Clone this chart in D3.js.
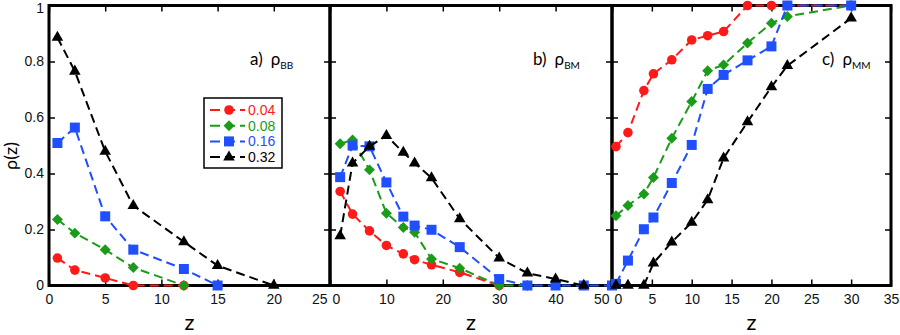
<!DOCTYPE html>
<html lang="en">
<head>
    <meta charset="UTF-8">
    <script src="https://d3js.org/d3.v7.min.js"></script>
    <style>
        body { margin: 0; background: #fff; }
        text { font-family: "Liberation Sans", Arial, sans-serif; }
        .lbl { font-family: Lato, "Open Sans", sans-serif; }
        .tick line { stroke: #000; stroke-width: 1.5px; }
    </style>
    <title>rho(z)</title>
</head>
<body>
    <div class="canvas"></div>
    <script>
        const seriesNames = ['0.04', '0.08', '0.16', '0.32']
        const colors = ['#ff1a1a', '#1a9c1a', '#1f4fff', '#000000']
        const shapes = ['circle', 'diamond', 'square', 'triangle']

        // a) rho_BB
        const zBB = [0.75, 2.3, 5, 7.5, 12, 15, 20]
        const bb004 = [0.098, 0.055, 0.027, 0, 0, null, null]
        const bb008 = [0.236, 0.187, 0.128, 0.064, 0, null, null]
        const bb016 = [0.509, 0.564, 0.247, 0.128, 0.059, 0, null]
        const bb032 = [0.886, 0.765, 0.479, 0.285, 0.156, 0.071, 0]

        // b) rho_BM
        const zBM = [1.8, 4, 7, 10, 13, 15, 18, 23, 30, 35, 40, 45, 50]
        const bm004 = [0.336, 0.255, 0.195, 0.143, 0.113, 0.092, 0.074, 0.047, 0, null, null, null, null]
        const bm008 = [0.506, 0.52, 0.413, 0.258, 0.207, 0.19, 0.095, 0.062, 0, 0, null, null, null]
        const bm016 = [0.387, 0.5, 0.497, 0.368, 0.246, 0.214, 0.199, 0.137, 0.023, 0, 0, 0, 0]
        const bm032 = [0.177, 0.437, 0.497, 0.535, 0.475, 0.437, 0.384, 0.238, 0.098, 0.044, 0.023, 0, null]

        // c) rho_MM
        const zMM = [0.5, 2, 4, 5.2, 7.5, 10, 12, 14, 17, 20, 22, 30]
        const mm004 = [0.496, 0.546, 0.696, 0.756, 0.806, 0.877, 0.892, 0.907, 1, 1, 1, 1]
        const mm008 = [0.249, 0.286, 0.327, 0.386, 0.526, 0.657, 0.767, 0.788, 0.866, 0.937, 0.961, 1]
        const mm016 = [0.006, 0.089, 0.201, 0.243, 0.366, 0.502, 0.702, 0.752, 0.804, 0.854, 1, 1]
        const mm032 = [0, 0, 0, 0.08, 0.155, 0.225, 0.306, 0.455, 0.584, 0.709, 0.785, 0.955]

        const ticksBB = [0, 5, 10, 15, 20, 25]
        const ticksBM = [0, 10, 20, 30, 40, 50]
        const ticksMM = [0, 5, 10, 15, 20, 25, 30, 35]
        const yTicks = [0, 0.2, 0.4, 0.6, 0.8, 1]

        const panels = [
            { tag: 'a)', sub: 'BB', z: zBB, vals: [bb004, bb008, bb016, bb032], ticks: ticksBB, left: 49, right: 330, labelX: 250 },
            { tag: 'b)', sub: 'BM', z: zBM, vals: [bm004, bm008, bm016, bm032], ticks: ticksBM, left: 330, right: 612, labelX: 533 },
            { tag: 'c)', sub: 'MM', z: zMM, vals: [mm004, mm008, mm016, mm032], ticks: ticksMM, left: 612, right: 891, labelX: 822 }
        ]

        const areaWidth = 900
        const areaHeight = 335
        const plotTop = 5.5
        const plotBottom = 285.5

        const svg = d3.select('.canvas')
            .append('svg')
            .attr('width', areaWidth)
            .attr('height', areaHeight)

        const y = d3.scaleLinear().domain([0, 1]).range([plotBottom, plotTop])

        const symbolFor = (shape) => {
            if (shape === 'circle') return d3.symbol().type(d3.symbolCircle).size(72)()
            if (shape === 'square') return d3.symbol().type(d3.symbolSquare).size(100)()
            if (shape === 'diamond') return d3.symbol().type(d3.symbolSquare).size(60)()
            return d3.symbol().type(d3.symbolTriangle).size(58)()
        }
        const rot = shape => shape === 'diamond' ? ' rotate(45)' : ''

        panels.forEach((p, pi) => {
            const x = d3.scaleLinear()
                .domain([p.ticks[0], p.ticks[p.ticks.length - 1]])
                .range([p.left, p.right])

            const g = svg.append('g')

            // ticks on all four sides, pointing inward
            const xb = g.append('g')
                .attr('transform', `translate(0,${plotBottom})`)
                .call(d3.axisBottom(x).tickValues(p.ticks).tickSize(-6).tickSizeOuter(0).tickPadding(9))
            g.append('g')
                .attr('transform', `translate(0,${plotTop})`)
                .call(d3.axisTop(x).tickValues(p.ticks).tickSize(-6).tickSizeOuter(0).tickFormat(''))
            const yl = g.append('g')
                .attr('transform', `translate(${p.left},0)`)
                .call(d3.axisLeft(y).tickValues(yTicks).tickSize(-6).tickSizeOuter(0).tickPadding(5)
                    .tickFormat(pi === 0 ? d3.format('~g') : ''))
            g.append('g')
                .attr('transform', `translate(${p.right},0)`)
                .call(d3.axisRight(y).tickValues(yTicks).tickSize(-6).tickSizeOuter(0).tickFormat(''))

            g.selectAll('.domain').remove()
            g.selectAll('.tick text')
                .style('font-size', '14px')
                .attr('fill', '#111')

            // keep the top "1" inside the picture
            yl.selectAll('.tick text').filter(d => d === 1).attr('dy', '0.5em')

            const labels = xb.selectAll('.tick text')
            if (pi > 0) {
                labels.filter((d, i) => i === 0).attr('text-anchor', 'start').attr('dx', 2)
            }
            if (pi < 2) {
                labels.filter((d, i) => i === p.ticks.length - 1).attr('text-anchor', 'end').attr('dx', -3)
            }

            g.append('rect')
                .attr('x', p.left)
                .attr('y', plotTop)
                .attr('width', p.right - p.left)
                .attr('height', plotBottom - plotTop)
                .attr('fill', 'none')
                .attr('stroke', '#000')
                .attr('stroke-width', 3)

            // x label
            g.append('text')
                .attr('class', 'lbl')
                .attr('x', (p.left + p.right) / 2)
                .attr('y', 330)
                .attr('text-anchor', 'middle')
                .style('font-size', '22px')
                .text('z')

            // panel label
            const t = g.append('text')
                .attr('class', 'lbl')
                .attr('x', p.labelX)
                .attr('y', 65)
                .style('font-size', '17px')
            t.append('tspan').text(p.tag)
            t.append('tspan').attr('dx', 8).text('ρ')
            t.append('tspan').attr('dy', 4).style('font-size', '10px').text(p.sub)

            // series
            p.vals.forEach((vals, si) => {
                const pts = p.z.map((z, i) => [z, vals[i]]).filter(d => d[1] !== null)
                const line = d3.line().x(d => x(d[0])).y(d => y(d[1]))
                g.append('path')
                    .datum(pts)
                    .attr('d', line)
                    .attr('fill', 'none')
                    .attr('stroke', colors[si])
                    .attr('stroke-width', 2)
                    .attr('stroke-dasharray', '9,5')

                g.selectAll(null)
                    .data(pts)
                    .enter()
                    .append('path')
                    .attr('d', symbolFor(shapes[si]))
                    .attr('transform', d => `translate(${x(d[0])},${y(d[1])})` + rot(shapes[si]))
                    .attr('fill', colors[si])
            })
        })

        // y label
        svg.append('text')
            .attr('class', 'lbl')
            .attr('transform', 'translate(17,156) rotate(-90)')
            .attr('text-anchor', 'middle')
            .style('font-size', '18px')
            .text('ρ(z)')

        // legend
        const legend = svg.append('g')
        legend.append('rect')
            .attr('x', 204)
            .attr('y', 98)
            .attr('width', 78)
            .attr('height', 70)
            .attr('fill', '#fff')
            .attr('stroke', '#000')
            .attr('stroke-width', 1.5)

        const rows = legend.selectAll('g')
            .data(seriesNames)
            .enter()
            .append('g')
            .attr('transform', (d, i) => `translate(0,${110 + i * 15.7})`)

        rows.append('line')
            .attr('x1', 210)
            .attr('x2', 245)
            .attr('stroke', (d, i) => colors[i])
            .attr('stroke-width', 2)
            .attr('stroke-dasharray', '10,5')
        rows.append('path')
            .attr('d', (d, i) => symbolFor(shapes[i]))
            .attr('transform', (d, i) => 'translate(229,0)' + rot(shapes[i]))
            .attr('fill', (d, i) => colors[i])
        rows.append('text')
            .attr('x', 248)
            .attr('y', 5)
            .style('font-size', '14px')
            .attr('fill', (d, i) => colors[i])
            .text(d => d)
    </script>
</body>
</html>
